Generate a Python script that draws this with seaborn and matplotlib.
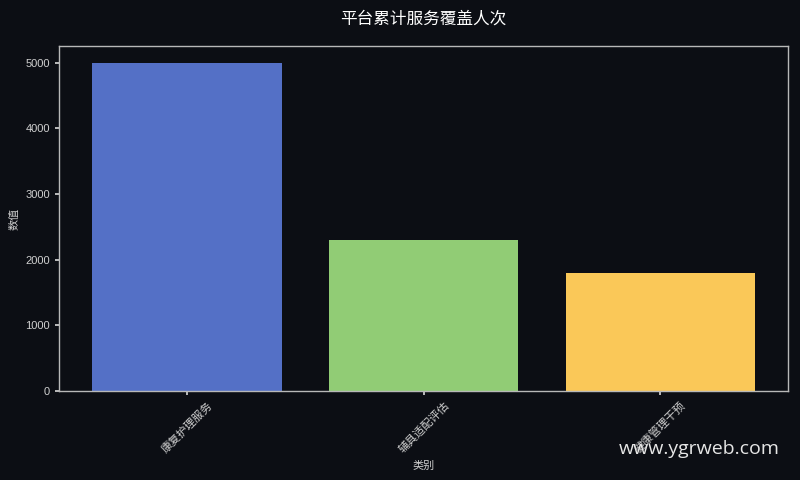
import pandas as pd
import matplotlib
matplotlib.use("Agg")
import matplotlib.pyplot as plt
import seaborn as sns

categories = ['康复护理服务', '辅具适配评估', '健康管理干预']
values = [5000, 2300, 1800]
bar_colors = ['#5470c6', '#91cc75', '#fac858']

bg = '#0c0e14'
fg = '#d0d0d0'

sns.set_theme(style="dark")
plt.rcParams['font.family'] = ['Liberation Sans', 'Noto Sans CJK SC', 'DejaVu Sans']
plt.rcParams['axes.unicode_minus'] = False

df = pd.DataFrame({'类别': categories, '数值': values})

fig, ax = plt.subplots(figsize=(8, 4.8), dpi=100)
fig.patch.set_facecolor(bg)
ax.set_facecolor(bg)

sns.barplot(data=df, x='类别', y='数值', hue='类别', palette=bar_colors,
            legend=False, width=0.8, saturation=1, edgecolor='none',
            linewidth=0, ax=ax)

ax.set_title('平台累计服务覆盖人次', color='white', fontsize=12, pad=16)
ax.set_xlabel('类别', color=fg, fontsize=8)
ax.set_ylabel('数值', color=fg, fontsize=8)
ax.tick_params(axis='both', colors=fg, labelsize=8, length=3, bottom=True, left=True)
plt.setp(ax.get_xticklabels(), rotation=45, ha='center')
ax.set_xlim(-0.54, 2.54)
ax.set_ylim(0, 5250)
ax.grid(False)
for s in ax.spines.values():
    s.set_color('#b8b8b8')
    s.set_linewidth(1)

fig.subplots_adjust(left=0.074, right=0.985, top=0.904, bottom=0.185)
fig.text(0.975, 0.065, 'www.ygrweb.com', color='#e6e6e6', fontsize=14,
         ha='right', va='center', family=['Open Sans', 'DejaVu Sans'])

fig.savefig('out.png', dpi=100, facecolor=bg)
